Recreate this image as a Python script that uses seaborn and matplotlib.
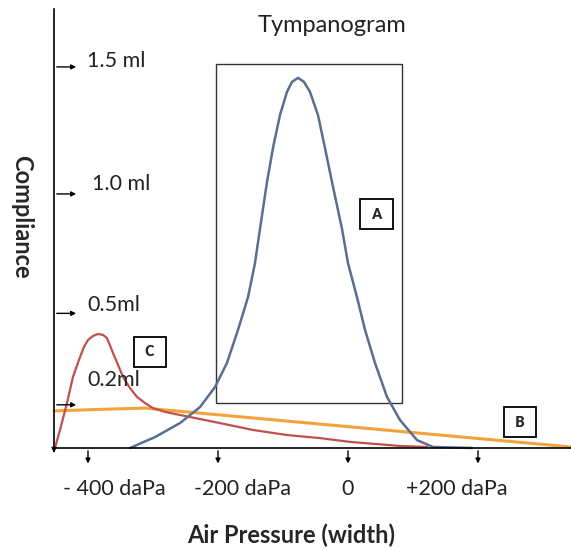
import matplotlib
matplotlib.use("Agg")
import matplotlib.pyplot as plt
import seaborn as sns
from matplotlib.patches import Rectangle

# --- DATOS ---
# curva A: timpanograma normal
a_presion = [-335.4, -296.9, -258.5, -227.7, -204.6, -186.2, -169.2, -153.8, -143.1,
             -135.4, -124.6, -115.4, -104.6, -93.8, -86.2, -76.9, -67.7, -58.5, -46.2,
             -35.4, -24.6, -9.2, 0.0, 13.8, 26.2, 41.5, 60.0, 80.0, 106.2, 130.8, 190.8]
a_compl = [0.0, 0.043, 0.098, 0.161, 0.240, 0.335, 0.465, 0.594, 0.728,
           0.862, 1.047, 1.181, 1.311, 1.402, 1.441, 1.457, 1.441, 1.402, 1.311,
           1.181, 1.047, 0.862, 0.728, 0.594, 0.465, 0.335, 0.201, 0.110, 0.031, 0.004, 0.0]

# curva C: pico en presion negativa
c_presion = [-450.8, -443.1, -432.3, -423.1, -412.3, -406.2, -400.0, -392.3, -384.6,
             -376.9, -370.8, -361.5, -353.8, -346.2, -335.4, -324.6, -312.3, -300.0,
             -281.5, -258.5, -196.9, -146.2, -93.8, -43.1, 3.1, 80.0, 121.5]
c_compl = [0.0, 0.071, 0.177, 0.280, 0.358, 0.398, 0.425, 0.441, 0.449,
           0.445, 0.433, 0.374, 0.327, 0.280, 0.236, 0.201, 0.177, 0.157,
           0.142, 0.130, 0.098, 0.071, 0.051, 0.039, 0.024, 0.008, 0.004]

# curva B: plana
b_presion = [-452.3, -381.5, -312.3, 343.1]
b_compl = [0.146, 0.152, 0.157, 0.004]

# rango normal (caja A): presion min/max, compliancia min/max
rango_presion = [-203, 83]
rango_compl = [0.177, 1.512]

xticks_val = [-400, -200, 0, 200]
xticks_lab = ["- 400 daPa", "-200 daPa", "0", "+200 daPa"]
yticks_val = [1.5, 1.0, 0.53, 0.17]
yticks_lab = ["1.5 ml", "1.0 ml", "0.5ml", "0.2ml"]

# --- COLORES ---
AZUL = "#5b6d90"
ROJO = "#c0504d"
NARANJA = "#f4a23c"

sns.set_style("white")
plt.rcParams['font.family'] = ['Lato', 'DejaVu Sans']

fig = plt.figure(figsize=(5.71, 5.5), dpi=100)
ax = fig.add_axes([54 / 571, 102 / 550, 517 / 571, 439 / 550])
ax.set_xlim(-452.3, 343.1)
ax.set_ylim(0, 1.728)

sns.lineplot(x=b_presion, y=b_compl, color=NARANJA, lw=2.2, estimator=None, ax=ax, clip_on=False)
sns.lineplot(x=c_presion, y=c_compl, color=ROJO, lw=1.6, estimator=None, ax=ax, clip_on=False)
sns.lineplot(x=a_presion, y=a_compl, color=AZUL, lw=1.8, estimator=None, ax=ax, clip_on=False)

ax.add_patch(Rectangle((rango_presion[0], rango_compl[0]),
                       rango_presion[1] - rango_presion[0],
                       rango_compl[1] - rango_compl[0],
                       fill=False, ec="#333333", lw=1.0))

# ejes
for s in ["top", "right"]:
    ax.spines[s].set_visible(False)
for s in ["left", "bottom"]:
    ax.spines[s].set_color("black")
    ax.spines[s].set_linewidth(1.2)
ax.set_xticks([])
ax.set_yticks([])

flecha = dict(arrowstyle="-|>", color="black", lw=1.0, mutation_scale=7)
ax.annotate("", xy=(-452.3, -0.03), xytext=(-452.3, 0), arrowprops=flecha, annotation_clip=False)

# marcas del eje Y con flechas
dx_lab = [51, 58, 52, 51]
dy_lab = [0.024, 0.039, 0.033, 0.098]
for v, lab, dx, dy in zip(yticks_val, yticks_lab, dx_lab, dy_lab):
    ax.annotate("", xy=(-414, v), xytext=(-452.3, v), arrowprops=flecha, annotation_clip=False)
    ax.text(-452.3 + dx, v + dy, lab, fontsize=15.5, color="#222222", va="center", ha="left")

# marcas del eje X con flechas
off_lab = [40, 37, 0, -32]
for v, lab, off in zip(xticks_val, xticks_lab, off_lab):
    ax.annotate("", xy=(v, -0.072), xytext=(v, 0), arrowprops=flecha, annotation_clip=False)
    ax.text(v + off, -0.161, lab, fontsize=15.5, color="#222222", ha="center", va="center", clip_on=False)

# etiquetas de las curvas
caja = dict(boxstyle="square,pad=0.6", fc="white", ec="black", lw=1.3)
for lab, x, y in [("A", 44.6, 0.921), ("C", -304.6, 0.378), ("B", 264.6, 0.102)]:
    ax.text(x, y, " " + lab + " ", fontsize=10, weight="heavy", ha="center", va="center", bbox=caja)

ax.text(-24.6, 1.665, "Tympanogram", fontsize=17, color="#222222", ha="center", va="center")
fig.text(291 / 571, 1 - 535 / 550, "Air Pressure (width)", fontsize=17, weight="bold",
         ha="center", va="center")
fig.text(22 / 571, 1 - 217 / 550, "Compliance", fontsize=17, weight="bold",
         ha="center", va="center", rotation=270)

fig.savefig("out.png", dpi=100)
